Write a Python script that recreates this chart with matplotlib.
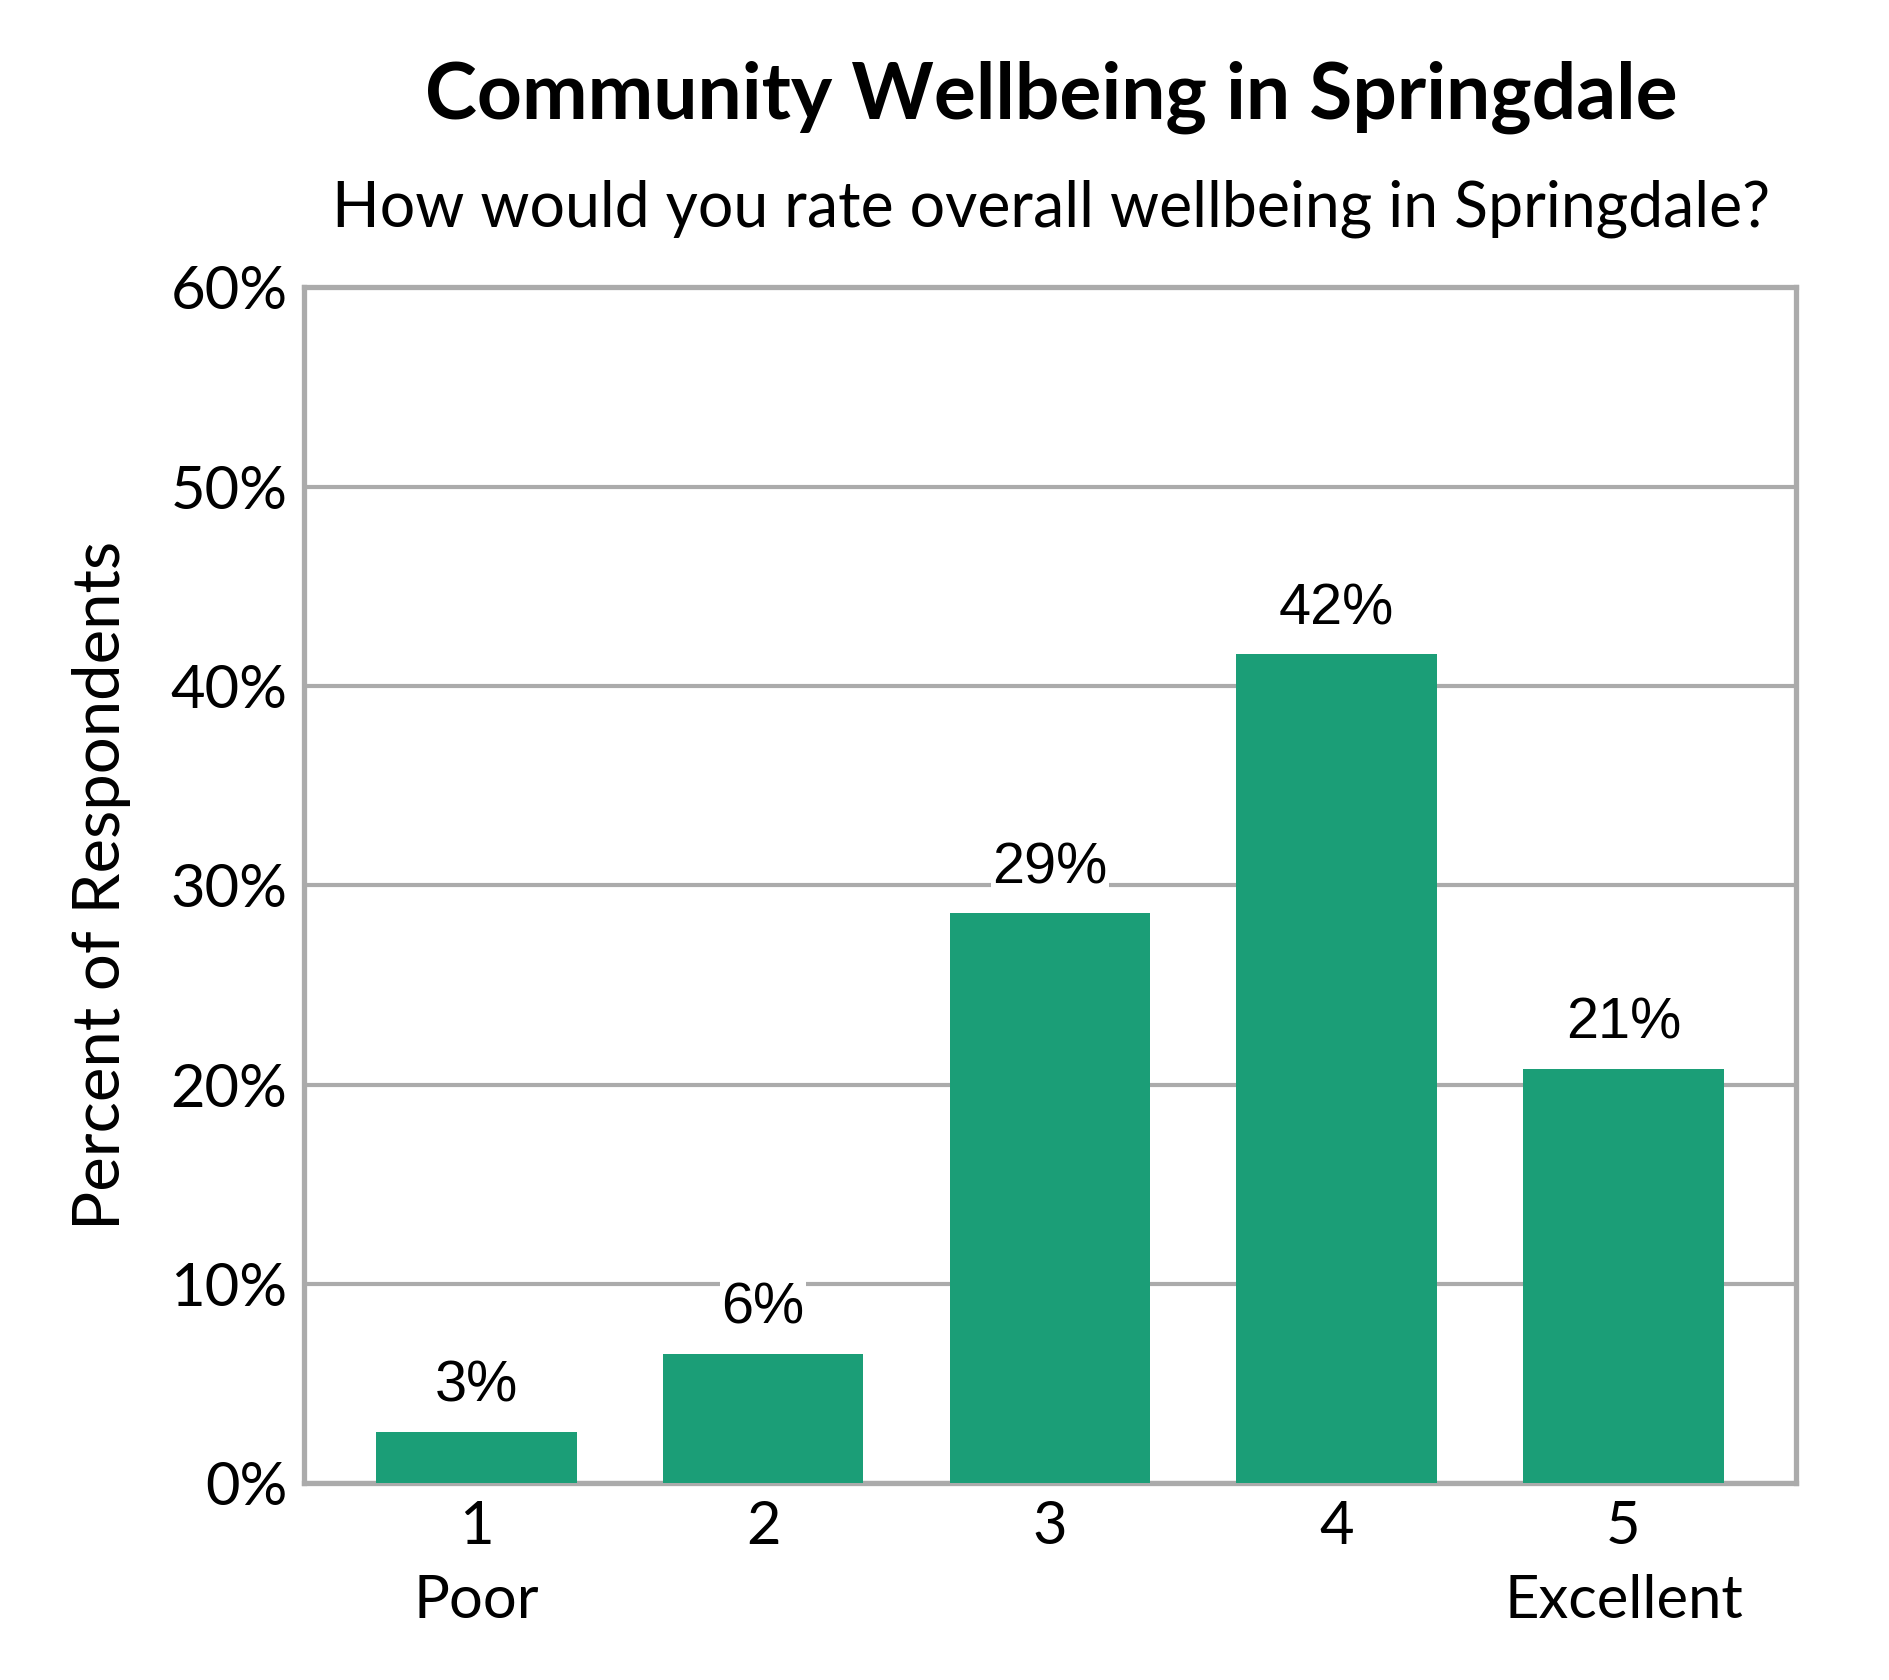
import matplotlib.pyplot as plt
import numpy as np

# ratings and share of respondents (percent)
ratings = [1, 2, 3, 4, 5]
tick_labels = ['1\nPoor', '2', '3', '4', '5\nExcellent']
percents = [2.6, 6.5, 28.6, 41.6, 20.8]
bar_labels = ['3%', '6%', '29%', '42%', '21%']
y_ticks = [0, 10, 20, 30, 40, 50, 60]

plt.rcParams['font.family'] = ['Lato', 'DejaVu Sans']

fig = plt.figure(figsize=(18.9, 16.8), dpi=100)
ax = fig.add_axes([0.161, 0.117, 0.789, 0.712])

grey = '#ababab'
ax.bar(ratings, percents, width=0.7, color='#1b9e77', zorder=3)
for x, p, lab in zip(ratings, percents, bar_labels):
    ax.text(x, p + 0.9, lab, ha='center', va='bottom', fontsize=41.5,
            family='Liberation Sans', zorder=4,
            bbox=dict(facecolor='white', edgecolor='none', pad=1))

ax.set_xlim(0.4, 5.6)
ax.set_ylim(0, 60)
ax.set_yticks(y_ticks)
ax.set_yticklabels([f'{t}%' for t in y_ticks], fontsize=43)
ax.set_xticks(ratings)
ax.set_xticklabels(tick_labels, fontsize=43, linespacing=1.45)
ax.tick_params(length=0, pad=12)
ax.yaxis.grid(True, color=grey, linewidth=3, zorder=0)
for s in ax.spines.values():
    s.set_color(grey)
    s.set_linewidth(3.8)

ax.set_ylabel('Percent of Respondents', fontsize=47)
ax.yaxis.set_label_coords(-0.116, 0.5)

fig.text(0.556, 0.942, 'Community Wellbeing in Springdale', ha='center',
         va='center', fontsize=56.5, fontweight='bold')
fig.text(0.556, 0.876, 'How would you rate overall wellbeing in Springdale?',
         ha='center', va='center', fontsize=45)

fig.savefig('out.png', dpi=100)
